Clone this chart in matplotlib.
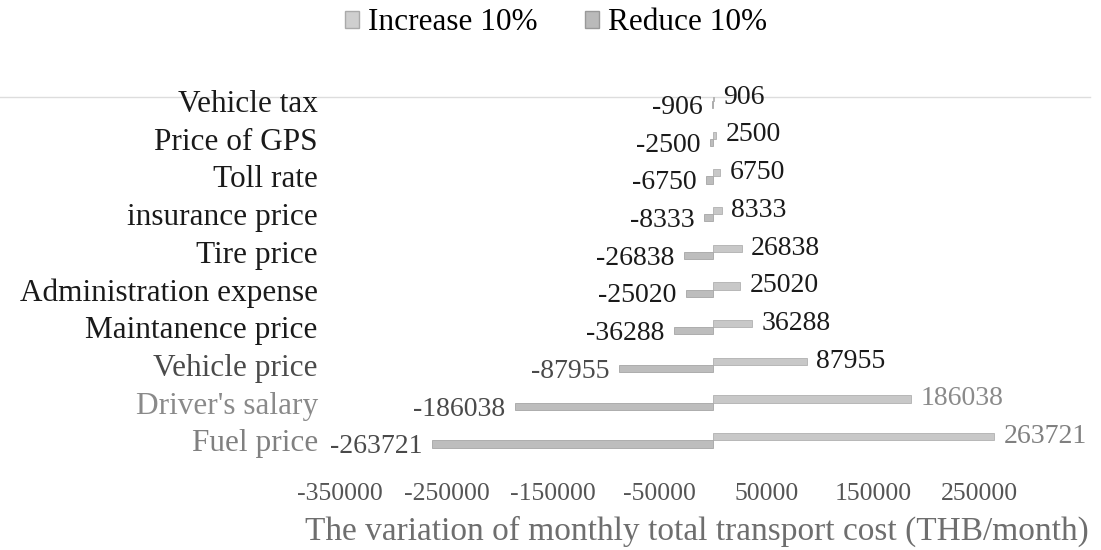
import numpy as np
import matplotlib.pyplot as plt
from matplotlib.lines import Line2D

# данные
categories = ["Vehicle tax", "Price of GPS", "Toll rate", "insurance price",
              "Tire price", "Administration expense", "Maintanence price",
              "Vehicle price", "Driver's salary", "Fuel price"]
increase = [906, 2500, 6750, 8333, 26838, 25020, 36288, 87955, 186038, 263721]
reduce = [-906, -2500, -6750, -8333, -26838, -25020, -36288, -87955, -186038, -263721]
tick_values = [-350000, -250000, -150000, -50000, 50000, 150000, 250000]
label_colors = ["#1a1a1a"] * 7 + ["#4a4a4a", "#8a8a8a", "#808080"]

plt.rcParams['font.family'] = ['Liberation Serif', 'DejaVu Serif']

fig = plt.figure(figsize=(11.01, 5.5), dpi=100)
W, H = 1101, 550
ax = fig.add_axes([340 / W, 1 - 465 / H, (1086 - 340) / W, (465 - 97) / H])
ax.patch.set_visible(False)

y = np.arange(len(categories))
bh = 0.19
ax.barh(y - bh / 2, increase, height=bh, color="#c8c8c8", edgecolor="#b0b0b0", linewidth=0.6)
ax.barh(y + bh / 2, reduce, height=bh, color="#bdbdbd", edgecolor="#a5a5a5", linewidth=0.6)

for i in range(len(categories)):
    ax.text(increase[i] + 9000, y[i] - 0.1, str(increase[i]), ha="left", va="center",
            fontsize=20, color=label_colors[i] if i >= 8 else "#1a1a1a", clip_on=False)
    ax.text(reduce[i] - 9000, y[i] + 0.17, str(reduce[i]), ha="right", va="center",
            fontsize=20, color="#4a4a4a" if i >= 7 else "#1a1a1a", clip_on=False)

ax.set_xlim(-350000, 350000)
ax.set_ylim(9.654, -0.106)
ax.set_yticks(y)
ax.set_yticklabels(categories, fontsize=22.5)
for lbl, c in zip(ax.get_yticklabels(), label_colors):
    lbl.set_color(c)
ax.set_xticks(tick_values)
ax.set_xticklabels([str(v) for v in tick_values], fontsize=18.5, color="#555555")
ax.tick_params(axis="both", length=0)
ax.tick_params(axis="y", pad=16)
ax.tick_params(axis="x", pad=13)
for s in ax.spines.values():
    s.set_visible(False)

ax.set_xlabel("The variation of monthly total transport cost (THB/month)",
              fontsize=24, color="#6e6e6e")
ax.xaxis.set_label_coords((697 - 340) / 746, -0.137)

# верхняя линия сетки
fig.add_artist(Line2D([0, 1090 / W], [1 - 97 / H, 1 - 97 / H], color="#dddddd", linewidth=1, zorder=-1))

handles = [plt.Rectangle((0, 0), 1, 1, facecolor="#cfcfcf", edgecolor="#aaaaaa"),
           plt.Rectangle((0, 0), 1, 1, facecolor="#bababa", edgecolor="#999999")]
fig.legend(handles, ["Increase 10%", "Reduce 10%"], loc="center", bbox_to_anchor=(556 / W, 1 - 23 / H),
           ncol=2, frameon=False, fontsize=22.5, handlelength=0.45, handleheight=0.45,
           handletextpad=0.3, columnspacing=1.5)

fig.savefig("out.png", dpi=100)
